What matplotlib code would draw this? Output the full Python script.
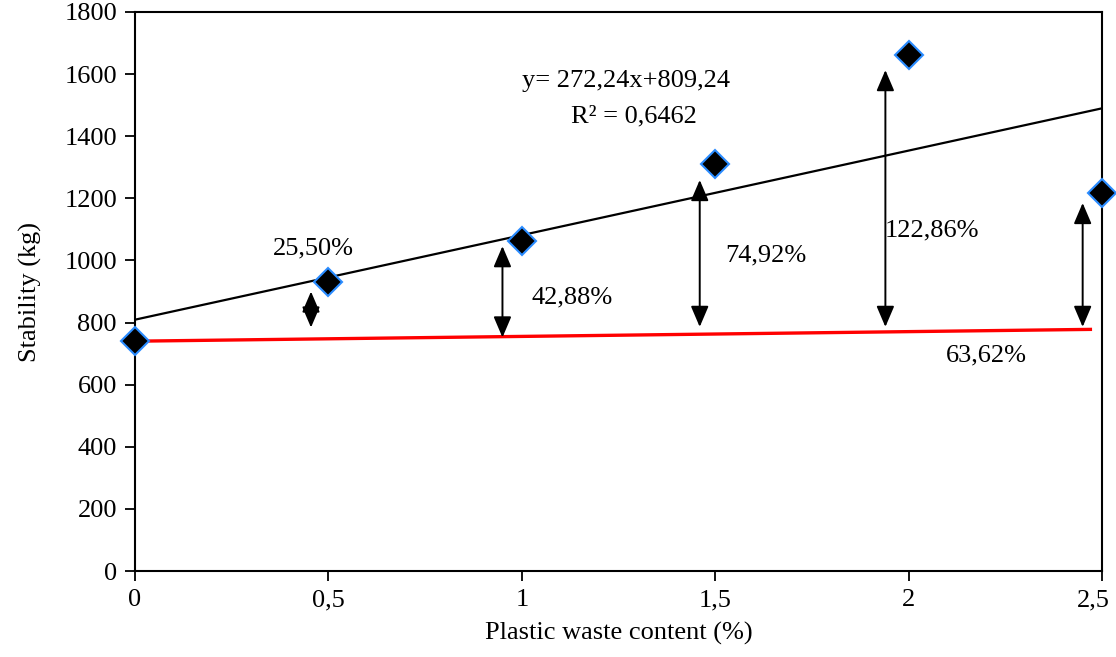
import matplotlib
matplotlib.use('Agg')
import matplotlib.pyplot as plt
import matplotlib.transforms as mtransforms
import numpy as np

plt.rcParams['font.family'] = ['Liberation Serif', 'DejaVu Serif']

# measured stability per plastic waste content
content = [0, 0.5, 1, 1.5, 2, 2.5]
stability = [740, 931, 1063, 1309, 1661, 1218]

# linear fit shown on chart
slope, intercept = 272.24, 809.24
# reference (red) line
ref_x = [0, 2.47]
ref_y = [740, 778]

# double arrows: x position, bottom, top, label, label pos
arrow_x = [0.455, 0.95, 1.46, 1.94, 2.45]
arrow_lo = [784, 752, 786, 786, 786]
arrow_hi = [900, 1046, 1259, 1613, 1185]
pct_labels = ['25,50%', '42,88%', '74,92%', '122,86%', '63,62%']
pct_x = [0.46, 1.13, 1.63, 2.06, 2.2]
pct_y = [1039, 882, 1017, 1098, 695]

FS = 19

fig = plt.figure(figsize=(11.16, 6.57), dpi=100)
ax = fig.add_axes([135 / 1116, 1 - 571 / 657, (1102 - 135) / 1116, (571 - 12) / 657])

fx = np.array([0, 2.5])
ax.plot(fx, slope * fx + intercept, color='black', lw=1.6, zorder=2)
ax.plot(ref_x, ref_y, color='#ff0000', lw=2.4, zorder=2)

for x, lo, hi in zip(arrow_x, arrow_lo, arrow_hi):
    ax.annotate('', xy=(x, hi), xytext=(x, lo),
                arrowprops=dict(arrowstyle='<|-|>,head_length=0.75,head_width=0.32',
                                color='black', lw=1.4, mutation_scale=17,
                                shrinkA=0, shrinkB=0), zorder=3)

ax.plot(content, stability, 'D', color='black', markersize=14,
        markeredgecolor='#2a8cff', markeredgewidth=1.5, clip_on=False, zorder=4)

for lab, x, y in zip(pct_labels, pct_x, pct_y):
    ax.text(x, y, lab, ha='center', va='center', fontsize=FS)

ax.text(1.27, 1578, 'y= 272,24x+809,24', ha='center', va='center', fontsize=FS)
ax.text(1.29, 1465, 'R² = 0,6462', ha='center', va='center', fontsize=FS)

ax.set_xlim(0, 2.5)
ax.set_ylim(0, 1800)
ax.set_xticks([0, 0.5, 1, 1.5, 2, 2.5])
ax.set_xticklabels(['0', '0,5', '1', '1,5', '2', '2,5'])
ax.set_yticks(range(0, 1801, 200))
ax.tick_params(labelsize=FS, length=7, width=1.3, direction='out', pad=6)
for s in ax.spines.values():
    s.set_linewidth(1.5)

# last x label sits a bit left of its tick, as in the original
last = ax.get_xticklabels()[-1]
last.set_transform(last.get_transform() +
                   mtransforms.ScaledTranslation(-6 / 72, 0, fig.dpi_scale_trans))

ax.set_xlabel('Plastic waste content (%)', fontsize=FS, labelpad=8)
ax.set_ylabel('Stability (kg)', fontsize=FS, labelpad=16)

fig.savefig('out.png', dpi=100)
